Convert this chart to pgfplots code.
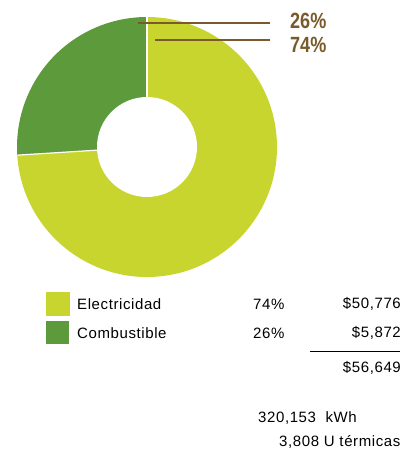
\documentclass[border=0pt]{standalone}
\usepackage{pgfplots}
\usepackage{pgfplotstable}
\usepackage{fontspec}
\setmainfont{Liberation Sans}
\pgfplotsset{compat=1.18}
\definecolor{lightg}{HTML}{C9D52F}
\definecolor{darkg}{HTML}{5D9A3B}
\definecolor{brownl}{HTML}{7A5A2A}
\pgfplotstableread{
name pct amount
Electricidad 74 50776
Combustible 26 5872
}\piedata
\begin{document}
\begin{tikzpicture}
\pgfplotstablegetelem{1}{pct}\of\piedata \let\pC\pgfplotsretval
\pgfmathsetmacro{\aA}{90}
\pgfmathsetmacro{\aB}{90+\pC*3.6}
\pgfmathsetmacro{\aC}{450}
\begin{axis}[
  scale only axis, width=408bp, height=452bp,
  xmin=0, xmax=408, ymin=0, ymax=452, y dir=reverse,
  hide axis, clip=false,
]
% donut
\fill[darkg] (axis cs:147,147) -- ++(\aA:130bp) arc[start angle=\aA, end angle=\aB, radius=130bp] -- cycle;
\fill[lightg] (axis cs:147,147) -- ++(\aB:130bp) arc[start angle=\aB, end angle=\aC, radius=130bp] -- cycle;
\draw[white, line width=1.2pt] (axis cs:147,147) -- ++(\aA:130bp);
\draw[white, line width=1.2pt] (axis cs:147,147) -- ++(\aB:130bp);
\fill[white] (axis cs:147,147) circle[radius=50bp];
% leader lines
\addplot[brownl, line width=2.8bp] coordinates {(138,23) (270,23)};
\addplot[brownl, line width=2.8bp] coordinates {(155,40) (270,40)};
\node[anchor=west, text=brownl, inner sep=0pt] at (axis cs:290,21) {\scalebox{0.82}[1]{\fontsize{22bp}{24bp}\selectfont\bfseries 26\%}};
\node[anchor=west, text=brownl, inner sep=0pt] at (axis cs:290,45) {\scalebox{0.82}[1]{\fontsize{22bp}{24bp}\selectfont\bfseries 74\%}};
% legend squares
\addplot[only marks, mark=square*, mark size=11.5bp, color=lightg] coordinates {(57.5,304)};
\addplot[only marks, mark=square*, mark size=11bp, color=darkg] coordinates {(57.5,332.5)};
\begin{scope}[every node/.style={inner sep=0pt, font=\fontsize{15bp}{17bp}\selectfont\addfontfeature{LetterSpace=4}}]
\node[anchor=west] at (axis cs:77,304) {Electricidad};
\node[anchor=west] at (axis cs:77,333) {Combustible};
\node[anchor=west] at (axis cs:253,304) {74\%};
\node[anchor=west] at (axis cs:253,333) {26\%};
\node[anchor=east] at (axis cs:401,304) {\$50,776};
\node[anchor=east] at (axis cs:401,333) {\$5,872};
\node[anchor=east] at (axis cs:401,368) {\$56,649};
\node[anchor=west] at (axis cs:258,418) {320,153\ \ kWh};
\node[anchor=west] at (axis cs:279,442) {3,808 U térmicas};
\end{scope}
\addplot[black, line width=1bp] coordinates {(310,351) (400,351)};
\end{axis}
\pgfresetboundingbox
\useasboundingbox (current axis.south west) rectangle (current axis.north east);
\end{tikzpicture}
\end{document}
